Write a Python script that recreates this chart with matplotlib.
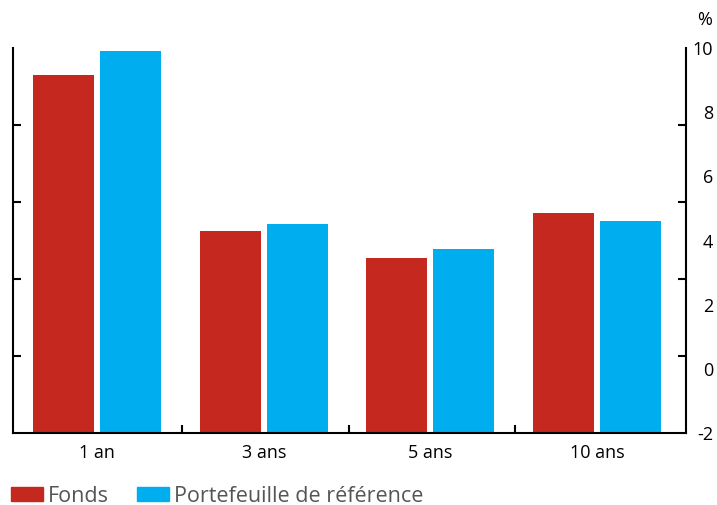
import numpy as np
import matplotlib
matplotlib.use('Agg')
import matplotlib.pyplot as plt
from matplotlib.patches import Patch

plt.rcParams['font.family'] = ['Open Sans', 'DejaVu Sans']
plt.rcParams['axes.unicode_minus'] = False

periods = ['1 an', '3 ans', '5 ans', '10 ans']
fonds = [9.15, 4.3, 3.45, 4.85]
reference = [9.9, 4.5, 3.75, 4.6]
y_min, y_max = -2, 10
y_labels = [-2, 0, 2, 4, 6, 8, 10]

red = '#C4281F'
blue = '#00AEEF'

fig = plt.figure(figsize=(7.17, 5.05), dpi=100)
ax = fig.add_axes([13 / 717, 72 / 505, 673 / 717, 385 / 505])

x = np.arange(len(periods))
width = 0.366
offset = 0.201
ax.bar(x - offset, np.array(fonds) - y_min, width, bottom=y_min, color=red)
ax.bar(x + offset, np.array(reference) - y_min, width, bottom=y_min, color=blue)

# the last group has a little more room on its right than the first on its left
ax.set_xlim(-0.504, len(periods) - 0.467)
ax.set_ylim(y_min, y_max)

for side in ['left', 'right', 'bottom']:
    ax.spines[side].set_linewidth(1.5)
ax.spines['top'].set_visible(False)

# y labels (no marks) and inward marks on both sides
ax.set_yticks(y_labels)
ax.set_yticks(np.linspace(y_min, y_max, 6), minor=True)
ax.tick_params(axis='y', which='major', length=0, labelleft=False,
               labelright=True, labelsize=13, pad=19.5)
ax.tick_params(axis='y', which='minor', direction='in', length=6, width=1.5,
               left=True, right=True)
for lab in ax.get_yticklabels():
    lab.set_horizontalalignment('right')

ax.set_xticks(x)
ax.set_xticklabels(periods)
ax.set_xticks(np.arange(0.51, len(periods) - 0.5, 1), minor=True)
ax.tick_params(axis='x', which='major', length=0, labelsize=13, pad=8)
ax.tick_params(axis='x', which='minor', direction='in', length=6, width=1.5)

fig.text(705 / 717, 1 - 20 / 505, '%', ha='center', va='center', fontsize=13)

handles = [Patch(color=red, label='Fonds'),
           Patch(color=blue, label='Portefeuille de référence')]
leg = fig.legend(handles=handles, loc='center left', ncol=2, frameon=False,
                 bbox_to_anchor=(11 / 717, 9 / 505), fontsize=15.5,
                 handlelength=1.49, handleheight=0.6, handletextpad=0.23,
                 columnspacing=1.3, borderaxespad=0, borderpad=0)
for t in leg.get_texts():
    t.set_color('#555555')

plt.savefig('out.png', dpi=100)
plt.close()
